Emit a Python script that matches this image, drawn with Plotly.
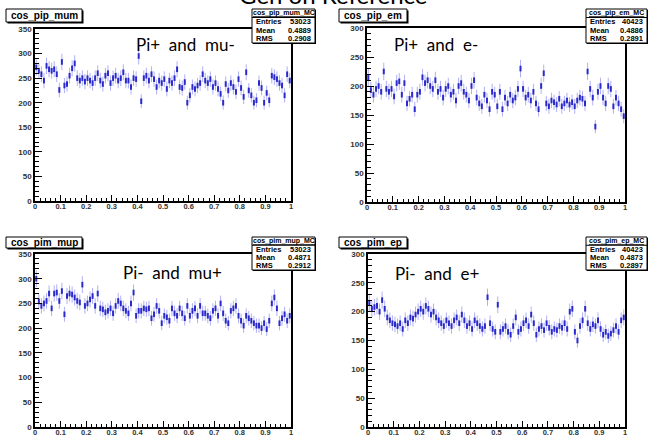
import numpy as np
import plotly.graph_objects as go

W, H = 648, 436

# ---------------- data (100 bins, 0..1) ----------------
bin_centers = [round(0.005 + 0.01 * i, 3) for i in range(100)]

pip_mum = [272, 265, 258, 245, 275, 268, 265, 268, 258, 226,
           283, 235, 238, 255, 270, 280, 250, 245, 250, 243,
           250, 245, 240, 250, 260, 245, 238, 255, 260, 240,
           250, 255, 245, 250, 262, 245, 245, 232, 250, 248,
           295, 203, 250, 255, 245, 258, 248, 232, 245, 240,
           248, 228, 245, 240, 250, 268, 232, 230, 242, 200,
           215, 232, 228, 235, 240, 258, 245, 240, 248, 232,
           240, 228, 218, 200, 238, 225, 240, 232, 222, 248,
           230, 212, 262, 225, 215, 200, 205, 240, 230, 200,
           220, 205, 255, 252, 248, 240, 235, 215, 258, 245]

pip_em = [215, 193, 185, 195, 200, 190, 225, 195, 190, 195,
          182, 205, 208, 185, 205, 170, 178, 185, 160, 185,
          190, 215, 205, 210, 200, 195, 210, 190, 195, 180,
          195, 200, 185, 190, 175, 200, 205, 190, 185, 175,
          200, 210, 180, 170, 165, 185, 175, 160, 190, 185,
          165, 190, 160, 180, 170, 185, 175, 180, 195, 230,
          195, 180, 185, 175, 190, 170, 160, 200, 222, 170,
          165, 175, 172, 168, 178, 165, 170, 175, 168, 172,
          165, 175, 180, 178, 170, 225, 195, 180, 130, 190,
          200, 180, 170, 200, 195, 165, 180, 170, 160, 148]

pim_mup = [300, 254, 245, 250, 255, 270, 240, 270, 272, 255,
           275, 228, 265, 270, 268, 262, 255, 252, 288, 245,
           250, 258, 265, 245, 270, 240, 238, 232, 235, 240,
           230, 245, 255, 250, 240, 235, 230, 250, 272, 225,
           235, 235, 240, 238, 240, 220, 228, 245, 235, 210,
           225, 222, 215, 240, 230, 225, 240, 230, 220, 245,
           225, 235, 240, 225, 245, 230, 230, 225, 220, 235,
           240, 225, 250, 230, 215, 210, 235, 240, 245, 225,
           215, 205, 225, 220, 215, 210, 205, 205, 200, 210,
           198, 215, 250, 262, 240, 210, 220, 228, 215, 225]

pim_ep = [215, 205, 208, 210, 200, 220, 205, 190, 185, 180,
          178, 175, 180, 170, 185, 180, 190, 188, 195, 200,
          205, 200, 210, 205, 195, 200, 190, 185, 180, 175,
          185, 180, 175, 185, 190, 180, 195, 185, 175, 180,
          170, 185, 180, 175, 170, 175, 225, 180, 170, 165,
          212, 165, 170, 175, 165, 160, 175, 190, 165, 170,
          180, 185, 175, 195, 180, 160, 170, 175, 168, 180,
          172, 165, 170, 168, 175, 172, 180, 170, 200, 205,
          165, 150, 175, 185, 205, 180, 170, 178, 175, 185,
          170, 160, 165, 158, 162, 168, 175, 165, 185, 190]

hist_names = ["cos_pip_mum", "cos_pip_em", "cos_pim_mup", "cos_pim_ep"]
stat_names = ["cos_pip_mum_MC", "cos_pip_em_MC", "cos_pim_mup_MC", "cos_pim_ep_MC"]
entries = ["53023", "40423", "53023", "40423"]
means = ["0.4889", "0.4886", "0.4871", "0.4873"]
rmss = ["0.2908", "0.2891", "0.2912", "0.2897"]
labels = ["Pi+\u00a0\u00a0and\u00a0\u00a0mu-", "Pi+\u00a0\u00a0and\u00a0\u00a0e-",
          "Pi-\u00a0\u00a0and\u00a0\u00a0mu+", "Pi-\u00a0\u00a0and\u00a0\u00a0e+"]
y_max = [350, 300, 350, 300]
series = [pip_mum, pip_em, pim_mup, pim_ep]

# ---------------- layout geometry (pixels) ----------------
def px_x(x):
    return x / W

def px_y(y):
    return 1 - y / H

# frame: left, right, top, bottom in pixels
frames = [(35, 291, 29, 201), (367, 625, 28, 202),
          (35, 291, 254, 427), (368, 625, 254, 427)]
title_boxes = [(6, 82, 9, 22), (339, 407, 9, 22), (6, 82, 237, 248), (339, 407, 237, 248)]
stat_boxes = [(252, 315, 9, 43), (586, 647, 9, 43), (252, 315, 237, 270), (586, 647, 237, 270)]
label_pos = [(185, 44), (436, 44), (172, 272), (437, 273)]

fig = go.Figure()
layout = dict(width=W, height=H, margin=dict(l=0, r=0, t=0, b=0),
              paper_bgcolor="white", plot_bgcolor="white", showlegend=False)
shapes = []
annotations = []
tickfont = dict(family="Liberation Sans", size=8, color="#333333", weight="bold")
MARK = "#2a2acc"

# cut-off headline at the top edge (drawn first)
annotations.append(dict(text="Gen on Reference", xref="paper", yref="paper",
                        x=px_x(333), y=px_y(11), xanchor="center", yanchor="bottom",
                        showarrow=False, font=dict(family="Lato", size=24, color="black")))

for i in range(4):
    xa = "x" if i == 0 else f"x{i+1}"
    ya = "y" if i == 0 else f"y{i+1}"
    vals = np.array(series[i], dtype=float)
    fig.add_trace(go.Scatter(
        x=bin_centers, y=vals, mode="markers", xaxis=xa, yaxis=ya,
        marker=dict(symbol="line-ns-open", size=4, color=MARK,
                    line=dict(width=2, color=MARK)),
        error_y=dict(type="data", array=np.sqrt(vals), thickness=1, width=0,
                     color="rgba(80,80,235,0.45)"),
        hoverinfo="skip"))
    l, r, t, b = frames[i]
    axkey_x = "xaxis" if i == 0 else f"xaxis{i+1}"
    axkey_y = "yaxis" if i == 0 else f"yaxis{i+1}"
    layout[axkey_x] = dict(domain=[px_x(l), px_x(r)], range=[0, 1], anchor=ya,
                           showgrid=False, zeroline=False, showline=True, mirror=True,
                           linecolor="black", linewidth=1.5, ticks="inside", ticklen=6,
                           tickwidth=1, tickcolor="black", dtick=0.1, tick0=0,
                           tickfont=dict(family="Liberation Sans", size=7.5, color="#333333",
                                         weight="bold"),
                           automargin=False, ticklabelstandoff=-3,
                           minor=dict(ticks="inside", ticklen=3, dtick=0.02,
                                      tickcolor="black", tickwidth=1))
    layout[axkey_y] = dict(domain=[px_y(b), px_y(t)], range=[0, y_max[i]], anchor=xa,
                           showgrid=False, zeroline=False, showline=True, mirror=True,
                           linecolor="black", linewidth=1.5, ticks="inside", ticklen=7,
                           tickwidth=1, tickcolor="black", dtick=50, tick0=0,
                           tickfont=tickfont, automargin=False,
                           minor=dict(ticks="inside", ticklen=4, dtick=10,
                                      tickcolor="black", tickwidth=1))

    # title box with shadow
    tl, tr, tt, tb = title_boxes[i]
    shapes.append(dict(type="rect", xref="paper", yref="paper",
                       x0=px_x(tl + 1.5), x1=px_x(tr + 1.5), y0=px_y(tb + 1.5), y1=px_y(tt + 1.5),
                       fillcolor="black", line=dict(width=0), layer="above"))
    shapes.append(dict(type="rect", xref="paper", yref="paper",
                       x0=px_x(tl), x1=px_x(tr), y0=px_y(tb), y1=px_y(tt),
                       fillcolor="white", line=dict(color="black", width=1), layer="above"))
    annotations.append(dict(text=f"<b>{hist_names[i]}</b>", xref="paper", yref="paper",
                            x=px_x((tl + tr) / 2), y=px_y((tt + tb) / 2),
                            xanchor="center", yanchor="middle", showarrow=False,
                            font=dict(family="Liberation Sans", size=10, color="black")))

    # stat box
    sl, sr, st, sb = stat_boxes[i]
    shapes.append(dict(type="rect", xref="paper", yref="paper",
                       x0=px_x(sl + 1), x1=px_x(sr + 1), y0=px_y(sb + 1), y1=px_y(st + 1),
                       fillcolor="black", line=dict(width=0), layer="above"))
    shapes.append(dict(type="rect", xref="paper", yref="paper",
                       x0=px_x(sl), x1=px_x(sr), y0=px_y(sb), y1=px_y(st),
                       fillcolor="white", line=dict(color="black", width=1), layer="above"))
    row_h = (sb - st) / 4.0
    shapes.append(dict(type="line", xref="paper", yref="paper",
                       x0=px_x(sl), x1=px_x(sr), y0=px_y(st + row_h), y1=px_y(st + row_h),
                       line=dict(color="black", width=1), layer="above"))
    sfont = dict(family="Liberation Sans", size=7.5, color="black", weight="bold")
    annotations.append(dict(text=f"<u>{stat_names[i]}</u>", xref="paper", yref="paper",
                            x=px_x((sl + sr) / 2), y=px_y(st + row_h / 2),
                            xanchor="center", yanchor="middle", showarrow=False,
                            font=dict(family="Liberation Sans", size=7, color="black", weight="bold")))
    rows = [("Entries", entries[i]), ("Mean", means[i]), ("RMS", rmss[i])]
    for k, (nm, v) in enumerate(rows):
        yy = px_y(st + row_h * (k + 1.5))
        annotations.append(dict(text=nm, xref="paper", yref="paper", x=px_x(sl + 2), y=yy,
                                xanchor="left", yanchor="middle", showarrow=False, font=sfont))
        annotations.append(dict(text=v, xref="paper", yref="paper", x=px_x(sr - 2), y=yy,
                                xanchor="right", yanchor="middle", showarrow=False, font=sfont))

    # panel label
    lx, ly = label_pos[i]
    annotations.append(dict(text=labels[i], xref="paper", yref="paper", x=px_x(lx), y=px_y(ly),
                            xanchor="center", yanchor="middle", showarrow=False,
                            font=dict(family="Lato", size=17, color="black")))

layout["shapes"] = shapes
layout["annotations"] = annotations
fig.update_layout(**layout)
fig.write_html("out.html")
